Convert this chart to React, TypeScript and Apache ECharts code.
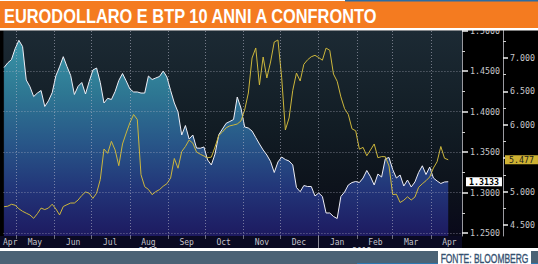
import React, { useEffect, useRef } from 'react';
import * as echarts from 'echarts';

const TITLE = 'EURODOLLARO E BTP 10 ANNI A CONFRONTO';
const SOURCE = 'FONTE: BLOOMBERG';

// sampling of the two series: every 3 calendar days from 21 Apr 2011
const SAMPLE_START = '2011-04-21';
const SAMPLE_STEP_DAYS = 3;

// EUR/USD (left axis)
const eurusd = [
  1.4543, 1.4601, 1.4641, 1.4777, 1.4879, 1.4802, 1.4389, 1.4306, 1.4185, 1.4228,
  1.4259, 1.4062, 1.4132, 1.4232, 1.4441, 1.4552, 1.4677, 1.4556, 1.4444, 1.4210,
  1.4311, 1.4358, 1.4216, 1.4370, 1.4512, 1.4537, 1.4358, 1.4105, 1.4163, 1.4148,
  1.4246, 1.4383, 1.4469, 1.4377, 1.4278, 1.4241, 1.4241, 1.4228, 1.4228, 1.4438,
  1.4395, 1.4414, 1.4432, 1.4500, 1.4426, 1.4259, 1.4105, 1.3994, 1.3710, 1.3827,
  1.3660, 1.3710, 1.3549, 1.3546, 1.3562, 1.3401, 1.3340, 1.3475, 1.3712, 1.3784,
  1.3854, 1.3877, 1.3901, 1.4179, 1.4043, 1.3809, 1.3796, 1.3759, 1.3679, 1.3599,
  1.3525, 1.3463, 1.3383, 1.3247, 1.3377, 1.3438, 1.3407, 1.3389, 1.3340, 1.3062,
  1.3010, 1.3086, 1.3074, 1.3074, 1.2957, 1.2994, 1.2951, 1.2747, 1.2747, 1.2704,
  1.2679, 1.2951, 1.3006, 1.3093, 1.3123, 1.3136, 1.3123, 1.3179, 1.3272, 1.3195,
  1.3093, 1.3228, 1.3191, 1.3416, 1.3432, 1.3284, 1.3179, 1.3216, 1.3080, 1.3154,
  1.3068, 1.3130, 1.3247, 1.3330, 1.3222, 1.3315, 1.3179, 1.3142, 1.3111, 1.3130,
  1.3133,
];

// BTP 10y yield (right axis)
const btp10y = [
  4.774, 4.781, 4.810, 4.796, 4.743, 4.705, 4.677, 4.650, 4.600, 4.669,
  4.753, 4.731, 4.754, 4.811, 4.740, 4.651, 4.777, 4.804, 4.829, 4.829,
  4.874, 4.942, 4.994, 4.976, 4.898, 4.976, 5.181, 5.638, 5.573, 5.753,
  5.623, 5.388, 5.713, 5.877, 6.030, 6.154, 6.079, 5.253, 5.073, 5.033,
  4.954, 5.000, 5.030, 5.081, 5.118, 5.204, 5.496, 5.350, 5.600, 5.675,
  5.772, 5.725, 5.593, 5.560, 5.533, 5.507, 5.516, 5.668, 5.840, 5.892,
  5.955, 5.984, 5.997, 6.012, 6.057, 6.222, 6.476, 7.000, 7.150, 6.596,
  7.015, 6.701, 6.940, 7.240, 7.269, 6.708, 5.922, 6.102, 6.515, 6.775,
  6.656, 6.906, 6.973, 7.019, 7.040, 7.007, 6.967, 7.148, 7.115, 6.760,
  6.651, 6.418, 6.241, 6.156, 5.940, 5.910, 5.635, 5.662, 5.537, 5.623,
  5.713, 5.507, 5.524, 5.522, 5.383, 4.955, 4.961, 4.837, 4.871, 4.922,
  4.874, 4.918, 5.064, 5.117, 5.163, 5.219, 5.353, 5.448, 5.675, 5.499,
  5.477,
];

const monthTickDates = [
  '2011-05-01', '2011-06-01', '2011-07-01', '2011-08-01', '2011-09-01', '2011-10-01',
  '2011-11-01', '2011-12-01', '2012-01-01', '2012-02-01', '2012-03-01', '2012-04-01',
];
const monthLabelDates = [
  '2011-04-26', '2011-05-16', '2011-06-16', '2011-07-16', '2011-08-16', '2011-09-16', '2011-10-16',
  '2011-11-16', '2011-12-16', '2012-01-16', '2012-02-16', '2012-03-16', '2012-04-16',
];
const monthLabels = ['Apr', 'May', 'Jun', 'Jul', 'Aug', 'Sep', 'Oct', 'Nov', 'Dec', 'Jan', 'Feb', 'Mar', 'Apr'];
const yearLabelDates = ['2011-08-16', '2012-02-05'];
const yearLabels = ['2011', '2012'];
const yearBreakDates = ['2012-01-01'];

const leftTicks = [1.25, 1.3, 1.35, 1.4, 1.45, 1.5];
const leftMinorTicks = [1.275, 1.325, 1.375, 1.425, 1.475];
const leftGridValues = [1.25, 1.3, 1.35, 1.4, 1.45];
const rightTicks = [4.5, 5.0, 5.5, 6.0, 6.5, 7.0];
const rightLabelValues = [4.5, 5.0, 6.0, 6.5, 7.0];
const rightMinorTicks = [4.75, 5.25, 5.75, 6.25, 6.75, 7.25];

const X_MIN = '2011-04-20T12:00';
const X_MAX = '2012-04-26T04:00';
const LEFT_MIN = 1.2463;
const LEFT_MAX = 1.5;
const RIGHT_MIN = 4.3353;
const RIGHT_MAX = 7.4117;

const MONO = "'DejaVu Sans Mono', 'Liberation Mono', monospace";

function toTs(s: string): number {
  const [datePart, timePart] = s.split('T');
  const [y, m, d] = datePart.split('-').map(Number);
  let hh = 0;
  let mm = 0;
  if (timePart) {
    [hh, mm] = timePart.split(':').map(Number);
  }
  return new Date(y, m - 1, d, hh, mm).getTime();
}

function nearest(arr: number[], v: number): number {
  let best = 0;
  for (let i = 1; i < arr.length; i++) {
    if (Math.abs(arr[i] - v) < Math.abs(arr[best] - v)) best = i;
  }
  return best;
}

export default function App() {
  const ref = useRef<HTMLDivElement>(null);

  useEffect(() => {
    document.body.style.margin = '0';
    if (!ref.current) return;
    const chart = echarts.init(ref.current, undefined, { renderer: 'svg' });

    const start = toTs(SAMPLE_START);
    const startDate = new Date(start);
    const sampleTs = eurusd.map((_, i) =>
      new Date(startDate.getFullYear(), startDate.getMonth(), startDate.getDate() + SAMPLE_STEP_DAYS * i).getTime()
    );
    const monthTickTs = monthTickDates.map(toTs);
    const monthLabelTs = monthLabelDates.map(toTs);
    const yearLabelTs = yearLabelDates.map(toTs);
    const yearBreakTs = yearBreakDates.map(toTs);
    const xMin = toTs(X_MIN);
    const xMax = toTs(X_MAX);

    const lastEur = eurusd[eurusd.length - 1];
    const lastBtp = btp10y[btp10y.length - 1];

    const option: any = {
      animation: false,
      backgroundColor: '#000000',
      grid: {
        left: 0,
        right: 76,
        top: 30.5,
        bottom: 28,
        show: true,
        borderWidth: 0,
        backgroundColor: new echarts.graphic.LinearGradient(0, 0, 0, 1, [
          { offset: 0, color: '#1c2a34' },
          { offset: 0.45, color: '#121d25' },
          { offset: 0.75, color: '#0d131c' },
          { offset: 1, color: '#09091a' },
        ]),
      },
      xAxis: [
        {
          type: 'value',
          min: xMin,
          max: xMax,
          axisLine: { show: false },
          axisTick: {
            show: true,
            customValues: monthTickTs,
            length: 3,
            lineStyle: { color: '#6a6a7a', width: 1 },
          },
          axisLabel: {
            show: true,
            customValues: monthLabelTs,
            formatter: (v: number) => monthLabels[nearest(monthLabelTs, v)],
            color: '#c4c4cc',
            fontFamily: MONO,
            fontSize: 8,
            lineHeight: 9,
            margin: 1.5,
          },
          splitLine: { show: false },
        },
        {
          type: 'value',
          min: xMin,
          max: xMax,
          position: 'bottom',
          axisLine: { show: false },
          axisTick: {
            show: true,
            customValues: yearBreakTs,
            length: 13,
            lineStyle: { color: '#8a8a96', width: 1 },
          },
          axisLabel: {
            show: true,
            customValues: yearLabelTs,
            formatter: (v: number) => yearLabels[nearest(yearLabelTs, v)],
            color: '#c4c4cc',
            fontFamily: MONO,
            fontSize: 8,
            lineHeight: 9,
            margin: 10.5,
          },
          splitLine: { show: false },
        },
      ],
      yAxis: [
        {
          type: 'value',
          position: 'right',
          offset: 0,
          min: LEFT_MIN,
          max: LEFT_MAX,
          axisLine: { show: true, lineStyle: { color: '#9a9aa0', width: 1 } },
          axisTick: { show: true, customValues: leftTicks, length: 6, lineStyle: { color: '#f0f0f0', width: 1.5 } },
          axisLabel: {
            show: true,
            customValues: leftTicks,
            formatter: (v: number) => v.toFixed(4),
            color: '#c8c8cc',
            fontFamily: MONO,
            fontSize: 8.3,
            margin: 8,
          },
          splitLine: { show: false },
          axisPointer: {
            show: true,
            type: 'line',
            value: lastEur,
            status: 'show',
            snap: false,
            triggerTooltip: false,
            lineStyle: { opacity: 0 },
            label: {
              show: true,
              formatter: (p: any) => Number(p.value).toFixed(4),
              backgroundColor: '#ffffff',
              color: '#000000',
              fontFamily: MONO,
              fontSize: 8.3,
              fontWeight: 'bold',
              padding: [1, 3, 0, 3],
              margin: 4,
              borderRadius: 0,
            },
          },
        },
        {
          type: 'value',
          position: 'right',
          offset: 41,
          min: RIGHT_MIN,
          max: RIGHT_MAX,
          axisLine: { show: true, lineStyle: { color: '#9a9aa0', width: 1 } },
          axisTick: { show: true, customValues: rightTicks, length: 5, lineStyle: { color: '#f0f0f0', width: 1.5 } },
          axisLabel: {
            show: true,
            customValues: rightLabelValues,
            formatter: (v: number) => v.toFixed(3),
            color: '#c8c8cc',
            fontFamily: MONO,
            fontSize: 8.3,
            margin: 7,
          },
          splitLine: { show: false },
          axisPointer: {
            show: true,
            type: 'line',
            value: lastBtp,
            status: 'show',
            snap: false,
            triggerTooltip: false,
            lineStyle: { opacity: 0 },
            label: {
              show: true,
              formatter: (p: any) => Number(p.value).toFixed(3),
              backgroundColor: '#cfb233',
              color: '#1a1a1a',
              fontFamily: MONO,
              fontSize: 8.3,
              padding: [1, 4, 0, 4],
              margin: 2,
              borderRadius: 0,
            },
          },
        },
        {
          type: 'value',
          position: 'right',
          offset: 0,
          min: LEFT_MIN,
          max: LEFT_MAX,
          axisLine: { show: false },
          axisTick: { show: true, customValues: leftMinorTicks, length: 3, lineStyle: { color: '#cfcfcf', width: 1 } },
          axisLabel: { show: false },
          splitLine: { show: false },
        },
        {
          type: 'value',
          position: 'right',
          offset: 41,
          min: RIGHT_MIN,
          max: RIGHT_MAX,
          axisLine: { show: false },
          axisTick: { show: true, customValues: rightMinorTicks, length: 3, lineStyle: { color: '#cfcfcf', width: 1 } },
          axisLabel: { show: false },
          splitLine: { show: false },
        },
      ],
      series: [
        {
          name: 'EUR/USD',
          type: 'line',
          xAxisIndex: 0,
          yAxisIndex: 0,
          data: eurusd.map((v, i) => [sampleTs[i], v]),
          showSymbol: false,
          symbol: 'none',
          lineStyle: { color: '#eeeef6', width: 1 },
          areaStyle: {
            origin: 'start',
            color: new echarts.graphic.LinearGradient(
              0, 30, 0, 236,
              [
                { offset: 0, color: '#3c9aac' },
                { offset: 0.3, color: '#2e7893' },
                { offset: 0.55, color: '#285688' },
                { offset: 0.78, color: '#223478' },
                { offset: 1, color: '#1d1a60' },
              ],
              true
            ),
            opacity: 1,
          },
          z: 2,
          markLine: {
            silent: true,
            symbol: ['none', 'none'],
            label: { show: false },
            lineStyle: { type: [1, 2], color: 'rgba(190,190,205,0.55)', width: 1 },
            data: [
              ...leftGridValues.map((v) => ({ yAxis: v })),
              ...monthTickTs.map((t) => ({ xAxis: t })),
            ],
          },
        },
        {
          name: 'BTP 10Y',
          type: 'line',
          xAxisIndex: 0,
          yAxisIndex: 1,
          data: btp10y.map((v, i) => [sampleTs[i], v]),
          showSymbol: false,
          symbol: 'none',
          lineStyle: { color: '#cdb73c', width: 1 },
          z: 3,
        },
      ],
      graphic: {
        elements: [
          { type: 'rect', z: -5, shape: { x: 0, y: 236, width: 462, height: 12 }, style: { fill: '#0a0a22' }, silent: true },
          { type: 'rect', z: 100, shape: { x: 0, y: 0, width: 538, height: 30.5 }, style: { fill: '#ffffff' }, silent: true },
          { type: 'rect', z: 101, shape: { x: 0, y: 1, width: 538, height: 27 }, style: { fill: '#f47b20' }, silent: true },
          { type: 'rect', z: 102, shape: { x: 345, y: 0, width: 193, height: 1.5 }, style: { fill: '#2b6ca3' }, silent: true },
          {
            type: 'text',
            z: 103,
            x: 4,
            y: 15.5,
            scaleX: 0.78,
            silent: true,
            style: {
              text: TITLE,
              fill: '#ffffff',
              font: "bold 21px 'Liberation Sans', Arial, sans-serif",
              align: 'left',
              verticalAlign: 'middle',
            },
          },
          { type: 'rect', z: 100, shape: { x: 0, y: 248, width: 538, height: 16 }, style: { fill: '#ffffff' }, silent: true },
          { type: 'rect', z: 101, shape: { x: 0, y: 251, width: 538, height: 13 }, style: { fill: '#4b6275' }, silent: true },
          { type: 'rect', z: 102, shape: { x: 357, y: 263, width: 181, height: 1 }, style: { fill: '#2d78b0' }, silent: true },
          { type: 'rect', z: 103, shape: { x: 438, y: 251, width: 93, height: 13 }, style: { fill: '#ffffff' }, silent: true },
          {
            type: 'text',
            z: 104,
            x: 484.5,
            y: 258,
            scaleX: 0.65,
            silent: true,
            style: {
              text: SOURCE,
              fill: '#34506f',
              font: "500 13px 'Liberation Sans', Arial, sans-serif",
              align: 'center',
              verticalAlign: 'middle',
              stroke: '#34506f',
              lineWidth: 0.35,
            },
          },
        ],
      },
    };

    chart.setOption(option);
    return () => chart.dispose();
  }, []);

  return <div ref={ref} style={{ width: 538, height: 264 }} />;
}
